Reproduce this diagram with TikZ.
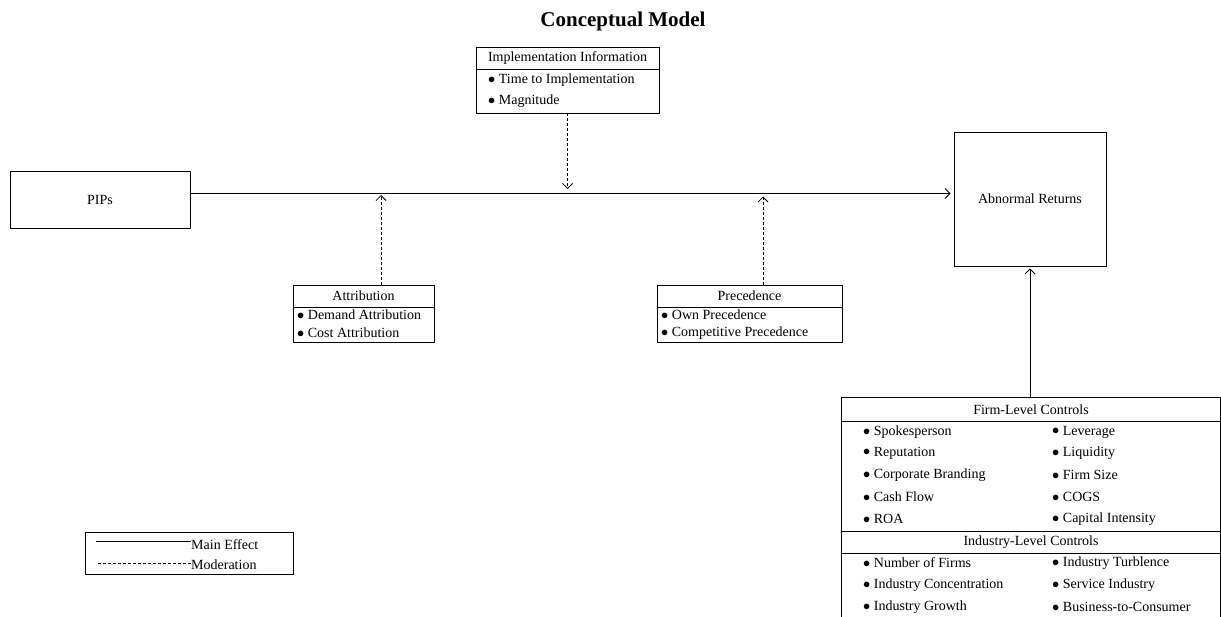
\documentclass[tikz,border=0pt]{standalone}
\usepackage{fontspec}
\setmainfont{Liberation Serif}
\usetikzlibrary{arrows.meta,calc}
\newcommand{\bul}{\raisebox{0.3pt}{$\bullet$}\ }
\begin{document}
\begin{tikzpicture}[x=1pt,y=-1pt, font=\fontsize{14}{16}\selectfont,
 box/.style={draw, line width=0.95pt, inner sep=0pt},
 lbl/.style={inner sep=0pt, anchor=center},
 item/.style={inner sep=0pt, anchor=west},
 div/.style={line width=0.75pt},
 mainarrow/.style={line width=0.75pt, -{Straight Barb[length=5pt,width=10pt]}},
 modarrow/.style={line width=0.75pt, dash pattern=on 3pt off 2pt, -{Straight Barb[length=5pt,width=10pt]}}]
\useasboundingbox (0,0) rectangle (1221,617);

\node[lbl, font=\fontsize{21}{24}\selectfont\bfseries] (title) at (623,21) {Conceptual Model};

% main boxes
\node[box, minimum width=180pt, minimum height=57pt] (pips) at (100,199.5) {PIPs};
\node[box, minimum width=152pt, minimum height=134pt] (ar) at (1030,199) {Abnormal Returns};

% implementation information
\node[box, minimum width=183pt, minimum height=66pt] (impl) at (567.5,80) {};
\draw[div] (impl.west |- 0,69) -- (impl.east |- 0,69);
\node[lbl] (implT) at (567.5,58) {Implementation Information};
\node[item] (impl1) at (488,80) {\bul Time to Implementation};
\node[item] (impl2) at (488,101) {\bul Magnitude};

% attribution
\node[box, minimum width=141pt, minimum height=57pt] (att) at (363.5,313.5) {};
\draw[div] (att.west |- 0,307) -- (att.east |- 0,307);
\node[lbl] (attT) at (363.5,296) {Attribution};
\node[item] (att1) at (297,315) {\bul Demand Attribution};
\node[item] (att2) at (297,333) {\bul Cost Attribution};

% precedence
\node[box, minimum width=185pt, minimum height=57pt] (prec) at (749.5,313.5) {};
\draw[div] (prec.west |- 0,307) -- (prec.east |- 0,307);
\node[lbl] (precT) at (749.5,296) {Precedence};
\node[item] (prec1) at (661,315) {\bul Own Precedence};
\node[item] (prec2) at (661,333) {\bul Competitive Precedence};

% controls (box runs off the bottom edge)
\node[inner sep=0pt, minimum width=378pt, minimum height=219pt] (fc) at (1031,507.5) {};
\draw[line width=0.95pt] (fc.south west) |- (fc.north east) -- (fc.south east);
\draw[div] (fc.west |- 0,421) -- (fc.east |- 0,421);
\draw[div] (fc.west |- 0,531) -- (fc.east |- 0,531);
\draw[div] (fc.west |- 0,553) -- (fc.east |- 0,553);
\node[lbl] (fcT) at (1031,409.5) {Firm-Level Controls};
\node[item] (f1) at (863,432) {\bul Spokesperson};
\node[item] (f2) at (863,453) {\bul Reputation};
\node[item] (f3) at (863,475) {\bul Corporate Branding};
\node[item] (f4) at (863,497) {\bul Cash Flow};
\node[item] (f5) at (863,519) {\bul ROA};
\node[item] (f6) at (1052,432) {\bul Leverage};
\node[item] (f7) at (1052,453) {\bul Liquidity};
\node[item] (f8) at (1052,475) {\bul Firm Size};
\node[item] (f9) at (1052,497) {\bul COGS};
\node[item] (f10) at (1052,519) {\bul Capital Intensity};
\node[lbl] (icT) at (1031,542) {Industry-Level Controls};
\node[item] (i1) at (863,563) {\bul Number of Firms};
\node[item] (i2) at (863,585) {\bul Industry Concentration};
\node[item] (i3) at (863,607) {\bul Industry Growth};
\node[item] (i4) at (1052,563) {\bul Industry Turblence};
\node[item] (i5) at (1052,585) {\bul Service Industry};
\node[item] (i6) at (1052,607) {\bul Business-to-Consumer};

% connectors
\coordinate (mainL) at (pips.east |- 0,193.5);
\coordinate (mainR) at (ar.west |- 0,193.5);
\draw[mainarrow, shorten >=3pt] (mainL) -- (mainR);
\coordinate (mImpl) at (567.5,189);
\draw[modarrow] (impl.south) -- (mImpl);
\coordinate (mAtt) at (381,195);
\draw[modarrow] (att.north -| mAtt) -- (mAtt);
\coordinate (mPrec) at (763,196.5);
\draw[modarrow] (prec.north -| mPrec) -- (mPrec);
\draw[mainarrow, shorten >=2pt] (ar.south |- fc.north) -- (ar.south);

% legend
\node[box, minimum width=208pt, minimum height=42pt] (leg) at (189,553) {};
\node[item] (lgMain) at (191,545) {Main Effect};
\node[item] (lgMod) at (191,565) {Moderation};
\coordinate (lgA) at (96,541);
\coordinate (lgB) at (98,563);
\draw[div] (lgA) -- (lgA -| lgMain.west);
\draw[div, dash pattern=on 3pt off 2pt] (lgB) -- (lgB -| lgMod.west);
\end{tikzpicture}
\end{document}
